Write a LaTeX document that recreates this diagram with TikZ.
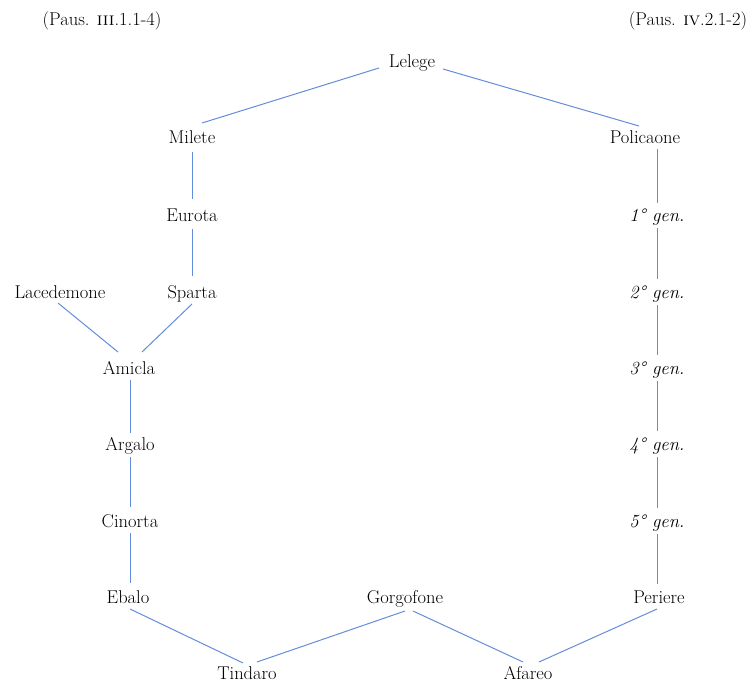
\documentclass[tikz,border=0pt]{standalone}
\usepackage{fontspec}
\definecolor{linkblue}{RGB}{100,140,220}
\begin{document}
\begin{tikzpicture}[x=1pt,y=-1pt,
  nm/.style={anchor=base,inner sep=0pt,font=\fontsize{18.5}{22}\selectfont},
  gn/.style={nm,font=\fontsize{18.5}{22}\selectfont\itshape},
  link/.style={draw=linkblue,line width=1pt}]
\useasboundingbox (0,0) rectangle (750,682);
% nodes (base = visual centre + 6)
\node[nm] (pl) at (102,26) {(Paus. \textsc{iii}.1.1-4)};
\node[nm] (pr) at (688,26) {(Paus. \textsc{iv}.2.1-2)};
\node[nm] (Lelege) at (412,68) {Lelege};
\node[nm] (Milete) at (192,144) {Milete};
\node[nm] (Policaone) at (645,144) {Policaone};
\node[nm] (Eurota) at (192,221) {Eurota};
\node[gn] (g1) at (657,221) {1° gen.};
\node[nm] (Lacedemone) at (60,298) {Lacedemone};
\node[nm] (Sparta) at (192,298) {Sparta};
\node[gn] (g2) at (657,298) {2° gen.};
\node[nm] (Amicla) at (129,374) {Amicla};
\node[gn] (g3) at (657,374) {3° gen.};
\node[nm] (Argalo) at (130,450) {Argalo};
\node[gn] (g4) at (657,450) {4° gen.};
\node[nm] (Cinorta) at (130,527) {Cinorta};
\node[gn] (g5) at (657,527) {5° gen.};
\node[nm] (Ebalo) at (128,603) {Ebalo};
\node[nm] (Gorgofone) at (405,603) {Gorgofone};
\node[nm] (Periere) at (659,603) {Periere};
\node[nm] (Tindaro) at (247,679) {Tindaro};
\node[nm] (Afareo) at (528,679) {Afareo};
% connectors
\draw[link] ([shift={(-33,0)}]Lelege.base) -- ([shift={(10,-21)}]Milete.base);
\draw[link] ([shift={(31,1)}]Lelege.base) -- ([shift={(-6,-18)}]Policaone.base);
\draw[link] ([shift={(0,8)}]Milete.base) -- ([shift={(0,-22)}]Eurota.base);
\draw[link] ([shift={(0,8)}]Eurota.base) -- ([shift={(0,-22)}]Sparta.base);
\draw[link] ([shift={(-2,5)}]Lacedemone.base) -- ([shift={(-11,-22)}]Amicla.base);
\draw[link] ([shift={(0,6)}]Sparta.base) -- ([shift={(13,-22)}]Amicla.base);
\draw[link] ([shift={(1,6)}]Amicla.base) -- ([shift={(0,-17)}]Argalo.base);
\draw[link] ([shift={(0,7)}]Argalo.base) -- ([shift={(0,-20)}]Cinorta.base);
\draw[link] ([shift={(0,6)}]Cinorta.base) -- ([shift={(2,-20)}]Ebalo.base);
\draw[link] ([shift={(2,6)}]Ebalo.base) -- ([shift={(-4,-16)}]Tindaro.base);
\draw[link] ([shift={(0,8)}]Gorgofone.base) -- ([shift={(10,-17)}]Tindaro.base);
\draw[link] ([shift={(8,8)}]Gorgofone.base) -- ([shift={(-5,-17)}]Afareo.base);
\draw[link] ([shift={(-2,6)}]Periere.base) -- ([shift={(11,-17)}]Afareo.base);
\draw[link] ([shift={(12,5)}]Policaone.base) -- ([shift={(0,-18)}]g1.base);
\draw[link] ([shift={(0,7)}]g1.base) -- ([shift={(0,-19)}]g2.base);
\draw[link] ([shift={(0,7)}]g2.base) -- ([shift={(0,-19)}]g3.base);
\draw[link] ([shift={(0,7)}]g3.base) -- ([shift={(0,-19)}]g4.base);
\draw[link] ([shift={(0,7)}]g4.base) -- ([shift={(0,-19)}]g5.base);
\draw[link] ([shift={(0,7)}]g5.base) -- ([shift={(-2,-19)}]Periere.base);
\end{tikzpicture}
\end{document}
